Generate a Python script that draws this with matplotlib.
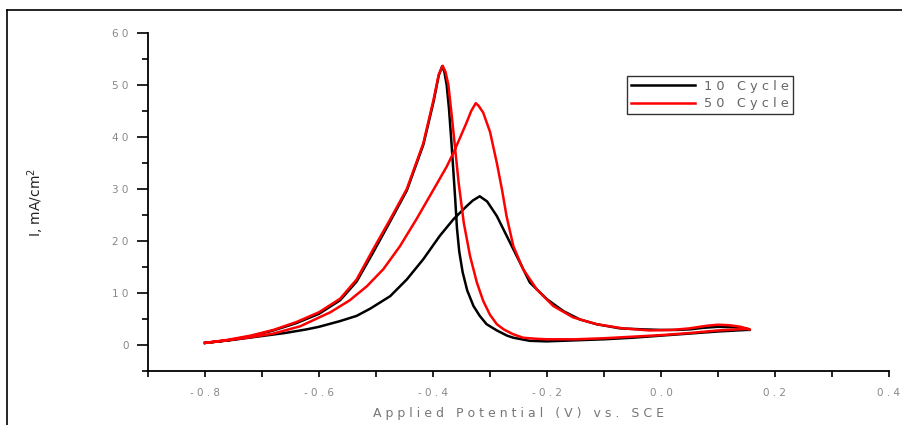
import numpy as np
import matplotlib
matplotlib.use("Agg")
import matplotlib.pyplot as plt
from matplotlib.ticker import MultipleLocator, FuncFormatter
from matplotlib.lines import Line2D

# 10 Cycle loop: forward branch (tall peak), then return branch (small peak)
v10 = [-0.80, -0.76, -0.72, -0.68, -0.64, -0.60, -0.563, -0.534, -0.505, -0.475,
       -0.446, -0.417, -0.399, -0.390, -0.384, -0.380, -0.376, -0.372, -0.368, -0.364,
       -0.361, -0.358, -0.354, -0.348, -0.340, -0.329, -0.318, -0.306, -0.288, -0.270,
       -0.259, -0.23, -0.20, -0.15, -0.10, -0.05, 0.0, 0.05, 0.10, 0.15,
       0.156, 0.13, 0.10, 0.074, 0.05, 0.028, 0.0, -0.03, -0.072, -0.113,
       -0.142, -0.171, -0.20, -0.23, -0.259, -0.288, -0.305, -0.318, -0.330, -0.341,
       -0.364, -0.388, -0.417, -0.446, -0.475, -0.510, -0.534, -0.563, -0.60, -0.622,
       -0.66, -0.709, -0.75, -0.80]
i10 = [0.4, 0.9, 1.7, 2.8, 4.2, 6.0, 8.6, 12.2, 17.8, 23.8,
       29.7, 38.5, 46.8, 51.8, 53.6, 52.5, 50.0, 45.5, 39.5, 33.0,
       28.0, 22.5, 18.0, 14.0, 10.5, 7.5, 5.6, 4.0, 2.8, 1.8,
       1.4, 0.8, 0.7, 0.9, 1.1, 1.4, 1.8, 2.2, 2.6, 2.9,
       2.9, 3.4, 3.5, 3.3, 3.0, 2.9, 2.9, 3.0, 3.2, 4.0,
       4.9, 6.5, 8.8, 12.0, 18.4, 24.8, 27.6, 28.6, 27.8, 26.7,
       24.2, 21.0, 16.5, 12.6, 9.4, 7.0, 5.6, 4.6, 3.5, 3.0,
       2.3, 1.6, 1.0, 0.4]

# 50 Cycle loop
v50 = [-0.80, -0.76, -0.72, -0.68, -0.64, -0.60, -0.563, -0.534, -0.505, -0.475,
       -0.446, -0.417, -0.399, -0.390, -0.383, -0.378, -0.373, -0.367, -0.361, -0.355,
       -0.346, -0.335, -0.323, -0.312, -0.30, -0.288, -0.276, -0.26, -0.242, -0.22,
       -0.20, -0.15, -0.10, -0.05, 0.0, 0.05, 0.10, 0.15,
       0.156, 0.14, 0.12, 0.10, 0.08, 0.05, 0.02, -0.02, -0.067, -0.113,
       -0.154, -0.189, -0.218, -0.242, -0.259, -0.271, -0.279, -0.288, -0.30, -0.312,
       -0.320, -0.325, -0.333, -0.341, -0.352, -0.364, -0.376, -0.399, -0.429, -0.458,
       -0.487, -0.516, -0.546, -0.580, -0.633, -0.68, -0.72, -0.76, -0.80]
i50 = [0.4, 1.0, 1.8, 2.9, 4.4, 6.3, 8.9, 12.6, 18.4, 24.2,
       30.0, 38.8, 47.2, 52.0, 53.7, 52.5, 50.0, 44.0, 37.6, 31.2,
       23.5, 17.1, 12.0, 8.5, 5.8, 4.0, 3.0, 2.1, 1.4, 1.2,
       1.1, 1.1, 1.3, 1.6, 1.9, 2.3, 2.8, 3.1,
       3.0, 3.5, 3.8, 3.9, 3.7, 3.2, 2.9, 2.8, 3.2, 4.0,
       5.3, 7.5, 10.7, 14.6, 19.0, 24.8, 29.9, 35.0, 41.0, 44.7,
       46.0, 46.5, 45.0, 42.8, 40.0, 37.0, 34.3, 29.9, 24.2, 19.0,
       14.6, 11.3, 8.6, 6.3, 3.6, 2.2, 1.5, 0.9, 0.4]

labels = ['10 Cycle', '50 Cycle']


def spaced(s):
    # spread letters the way the original plot software did
    return '   '.join(' '.join(w) for w in s.split(' '))


fig = plt.figure(figsize=(9.02, 4.25), dpi=100)
ax = fig.add_axes([148/902, 1-371/425, 741/902, 338/425])

ax.plot(v10, i10, color='black', lw=1.8, label=spaced(labels[0]))
ax.plot(v50, i50, color='red', lw=1.8, label=spaced(labels[1]))

ax.set_xlim(-0.9, 0.4)
ax.set_ylim(-5, 60)
ax.spines['top'].set_visible(False)
ax.spines['right'].set_visible(False)
ax.spines['left'].set_linewidth(1.3)
ax.spines['bottom'].set_linewidth(1.3)

ax.set_xticks(np.arange(-0.8, 0.41, 0.2))
ax.xaxis.set_minor_locator(MultipleLocator(0.1))
ax.set_yticks(np.arange(0, 61, 10))
ax.yaxis.set_minor_locator(MultipleLocator(5))

ax.xaxis.set_major_formatter(FuncFormatter(lambda x, p: spaced('%.1f' % (0 if abs(x) < 1e-9 else x))))
ax.yaxis.set_major_formatter(FuncFormatter(lambda y, p: spaced('%d' % y)))

ax.tick_params(axis='y', which='major', direction='out', length=8, width=1.2,
               labelsize=7.5, labelcolor='#888888', pad=6)
ax.tick_params(axis='y', which='minor', direction='out', length=4, width=1.2)
ax.tick_params(axis='x', which='major', direction='out', length=4, width=1.2,
               labelsize=7.5, labelcolor='#888888', pad=8)
ax.tick_params(axis='x', which='minor', direction='out', length=4, width=1.2)

ax.set_xlabel(spaced('Applied Potential (V) vs. SCE'), fontsize=9, color='#777777', labelpad=7)
ax.set_ylabel('I, mA/cm$^2$', fontsize=10, color='#222222', labelpad=48)

leg = ax.legend(loc='upper left', bbox_to_anchor=(0.646, 0.873), fontsize=9.3,
                frameon=True, fancybox=False, edgecolor='black', borderaxespad=0,
                borderpad=0.3, handlelength=5.0, handletextpad=0.7, labelspacing=0.35)
leg.get_frame().set_linewidth(1.0)
for t in leg.get_texts():
    t.set_color('#666666')

# outer frame (left and top edges visible)
fig.add_artist(Line2D([7/902, 7/902], [0, 1-10/425], transform=fig.transFigure, color='black', lw=1.2))
fig.add_artist(Line2D([7/902, 1], [1-10/425, 1-10/425], transform=fig.transFigure, color='black', lw=1.2))

fig.savefig('out.png', dpi=100)
